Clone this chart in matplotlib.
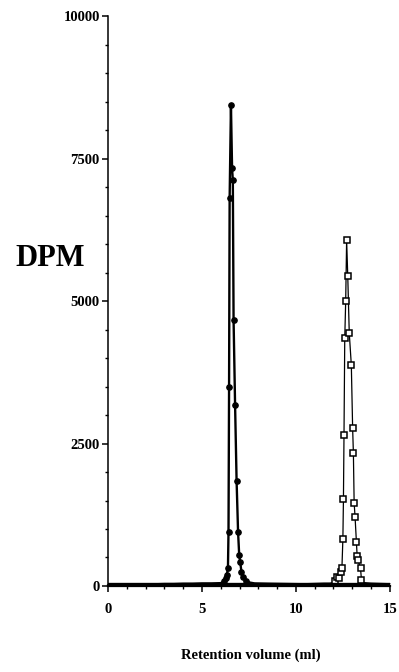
import matplotlib.pyplot as plt
from matplotlib.ticker import MultipleLocator

# retention volume (ml) and DPM
vol_a = [0.0, 0.5, 1.0, 1.5, 2.0, 2.5, 3.0, 3.5, 4.0, 4.5, 5.0, 5.5, 6.0,
         6.15, 6.25, 6.32, 6.38, 6.41, 6.44, 6.47, 6.54, 6.60, 6.64, 6.68,
         6.76, 6.84, 6.92, 6.98, 7.03, 7.10, 7.20, 7.35, 7.55, 7.8, 8.5,
         9.5, 10.5]
dpm_a = [10, 15, 20, 25, 30, 30, 35, 35, 40, 40, 45, 45, 50,
         80, 140, 200, 310, 950, 3500, 6800, 8440, 7330, 7120, 4670,
         3180, 1850, 940, 540, 425, 250, 150, 90, 60, 45, 40,
         35, 30]

vol_b = [1.5, 2.5, 3.5, 4.5, 5.5, 6.5, 7.5, 8.5, 9.5, 10.5, 11.0, 11.5,
         11.8, 12.0, 12.10, 12.20, 12.30, 12.38, 12.45, 12.50, 12.53, 12.56,
         12.60, 12.65, 12.70, 12.76, 12.84, 12.95, 13.02, 13.06, 13.10,
         13.15, 13.22, 13.26, 13.30, 13.44, 13.49, 13.6, 14.0, 14.5, 15.0]
dpm_b = [20, 25, 30, 30, 35, 35, 35, 40, 40, 40, 45, 50,
         50, 60, 88, 163, 135, 250, 320, 820, 1520, 2650,
         4345, 5000, 6070, 5440, 4440, 3877, 2767, 2328, 1461,
         1205, 777, 526, 456, 310, 105, 60, 50, 45, 40]

serif = 'Liberation Serif'

fig = plt.figure(figsize=(3.99, 6.72), dpi=100)
ax = fig.add_axes([0.271, 0.128, 0.706, 0.848])

mark_a = [i for i, v in enumerate(vol_a) if 6.1 <= v <= 7.4]
mark_b = [i for i, v in enumerate(vol_b) if 12.05 <= v <= 13.5]

ax.plot(vol_a, dpm_a, color='black', lw=1.7, marker='o', ms=3.8,
        markevery=mark_a, clip_on=False)
ax.plot(vol_b, dpm_b, color='black', lw=0.9, marker='s', ms=3.8,
        mfc='white', mec='black', mew=1.1, markevery=mark_b, clip_on=False)
# thick baseline under both traces
ax.plot([0, 15], [40, 40], color='black', lw=2.4)

ax.set_xlim(0, 15)
ax.set_ylim(0, 10000)
ax.spines['top'].set_visible(False)
ax.spines['right'].set_visible(False)
ax.spines['left'].set_linewidth(1.1)
ax.spines['bottom'].set_linewidth(1.6)

ax.xaxis.set_major_locator(MultipleLocator(5))
ax.xaxis.set_minor_locator(MultipleLocator(1))
ax.yaxis.set_major_locator(MultipleLocator(2500))
ax.yaxis.set_minor_locator(MultipleLocator(500))
ax.tick_params(which='major', length=4, width=1.1, direction='out')
ax.tick_params(which='minor', length=2.5, width=1.0, direction='out')
ax.tick_params(axis='x', pad=8)
ax.tick_params(axis='y', pad=2)

for lab in ax.get_xticklabels() + ax.get_yticklabels():
    lab.set_fontfamily(serif)
    lab.set_fontweight('bold')
    lab.set_fontsize(10.5)

fig.text(50 / 399, 1 - 258 / 672, 'DPM', family=serif, weight='bold',
         fontsize=22, ha='center', va='center')
fig.text(251 / 399, 1 - 655 / 672, 'Retention volume (ml)', family=serif,
         weight='bold', fontsize=10.5, ha='center', va='center')

fig.savefig('out.png', dpi=100)
